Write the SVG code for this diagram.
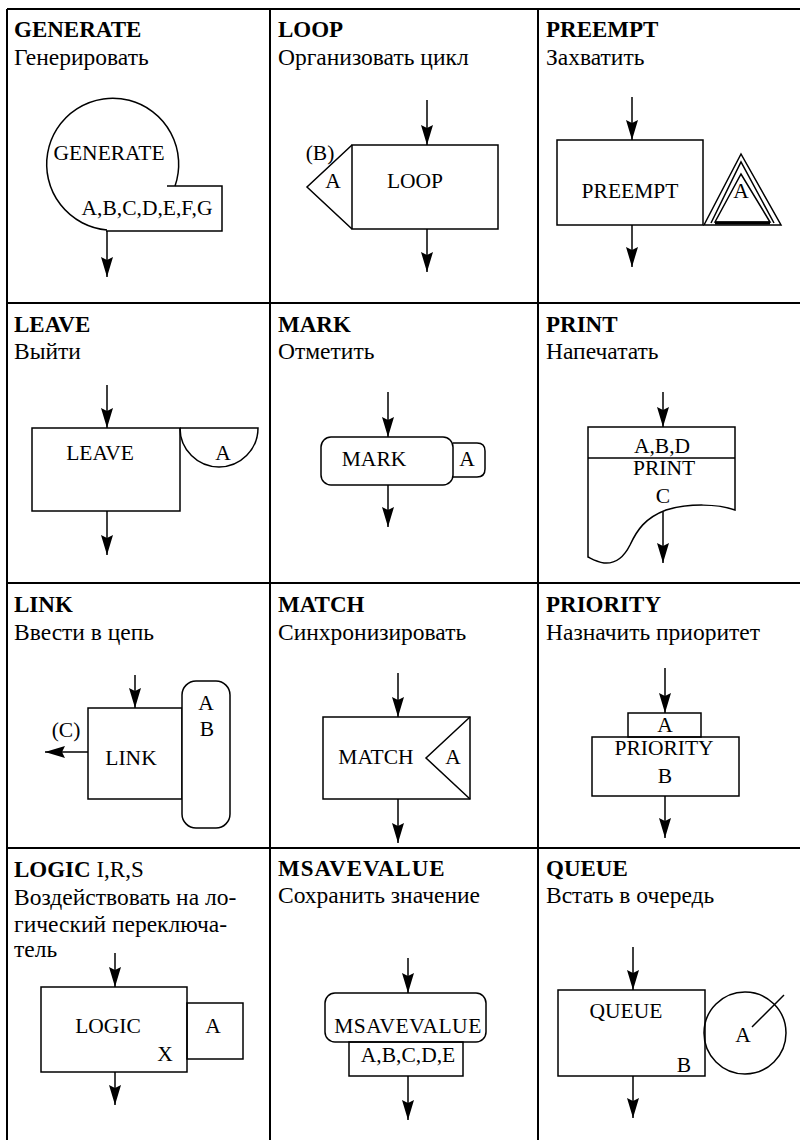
<svg xmlns="http://www.w3.org/2000/svg" width="800" height="1140" viewBox="0 0 800 1140" font-family="'Liberation Serif', 'DejaVu Serif', serif">
<style>
.grid{stroke:#000;stroke-width:2;fill:none}
.s{stroke:#000;stroke-width:1.5;fill:none}
.w{stroke:#000;stroke-width:1.5;fill:#fff}
.t{font-family:'Liberation Serif','DejaVu Serif',serif;font-weight:bold;font-size:23px;fill:#000}
.st{font-family:'Liberation Serif','DejaVu Serif',serif;font-size:23.5px;fill:#000}
.l{font-family:'Liberation Serif','DejaVu Serif',serif;font-size:21.5px;fill:#000;text-anchor:middle}
.c{stroke:#000;stroke-width:1.5;fill:none;marker-end:url(#ah)}
</style>
<defs>
<marker id="ah" markerUnits="userSpaceOnUse" markerWidth="22" markerHeight="14" refX="20" refY="6" orient="auto">
<path d="M0,0 L20,6 L0,12 L3,6 Z" fill="#000"/>
</marker>
</defs>
<rect width="800" height="1140" fill="#fff"/>
<g id="grid" class="grid">
<line x1="7" y1="9" x2="800" y2="9"/>
<line x1="7" y1="303" x2="800" y2="303"/>
<line x1="7" y1="583" x2="800" y2="583"/>
<line x1="7" y1="848" x2="800" y2="848"/>
<line x1="7" y1="9" x2="7" y2="1140"/>
<line x1="270" y1="9" x2="270" y2="1140"/>
<line x1="538" y1="9" x2="538" y2="1140"/>
</g>

<g id="generate">
<text class="t" x="14" y="37">GENERATE</text>
<text class="st" x="14" y="65">Генерировать</text>
<path class="s" d="M175,186 A66,66 0 1 0 107,230"/>
<path class="s" d="M167,186 H222 V231 H106"/>
<text class="l" x="109" y="160">GENERATE</text>
<text class="l" x="147" y="215">A,B,C,D,E,F,G</text>
</g>

<g id="loop">
<text class="t" x="278" y="37">LOOP</text>
<text class="st" x="278" y="65">Организовать цикл</text>
<rect class="s" x="352" y="145" width="146" height="84"/>
<path class="s" d="M352,145 L307,187 L352,229"/>
<text class="l" x="320" y="160">(B)</text>
<text class="l" x="333" y="188">A</text>
<text class="l" x="415" y="188">LOOP</text>
</g>

<g id="preempt">
<text class="t" x="546" y="37">PREEMPT</text>
<text class="st" x="546" y="65">Захватить</text>
<rect class="s" x="557" y="140" width="146" height="85"/>
<text class="l" x="630" y="198">PREEMPT</text>
<path class="s" d="M704,225 L741,154 L781,225 Z"/>
<path class="s" d="M711,223 L741,162 L774,223"/>
<path class="s" d="M715,222 L741,174 L770,222 Z"/>
<line x1="715" y1="223" x2="770" y2="223" stroke="#000" stroke-width="3"/>
<text class="l" x="741" y="198">A</text>
</g>

<g id="leave">
<text class="t" x="14" y="332">LEAVE</text>
<text class="st" x="14" y="359">Выйти</text>
<rect class="s" x="32" y="428" width="148" height="83"/>
<path class="s" d="M180,428 H258 A39,39 0 0 1 180,428"/>
<text class="l" x="100" y="460">LEAVE</text>
<text class="l" x="223" y="460">A</text>
</g>

<g id="mark">
<text class="t" x="278" y="332">MARK</text>
<text class="st" x="278" y="359">Отметить</text>
<rect class="s" x="321" y="437" width="132" height="48" rx="10"/>
<path class="s" d="M453,443 H477 Q485,443 485,451 V469 Q485,477 477,477 H453"/>
<text class="l" x="374" y="466">MARK</text>
<text class="l" x="467" y="466">A</text>
</g>

<g id="print">
<text class="t" x="546" y="332">PRINT</text>
<text class="st" x="546" y="359">Напечатать</text>
<path class="s" d="M588,427 H735 V510 C718,504 690,503 666,510 C645,518 637,530 630,545 C624,557 615,564 604,563 C597,562 592,559 588,557 Z"/>
<line class="s" x1="588" y1="458" x2="735" y2="458"/>
<text class="l" x="662" y="453">A,B,D</text>
<text class="l" x="664" y="475">PRINT</text>
<text class="l" x="663" y="503">C</text>
</g>

<g id="link">
<text class="t" x="14" y="612">LINK</text>
<text class="st" x="14" y="640">Ввести в цепь</text>
<rect class="s" x="88" y="708" width="94" height="91"/>
<rect class="w" x="182" y="681" width="48" height="147" rx="14"/>
<text class="l" x="206" y="710">A</text>
<text class="l" x="207" y="736">B</text>
<text class="l" x="131" y="765">LINK</text>
<text class="l" x="66" y="737">(C)</text>
</g>

<g id="match">
<text class="t" x="278" y="612">MATCH</text>
<text class="st" x="278" y="640">Синхронизировать</text>
<rect class="s" x="323" y="717" width="147" height="82"/>
<path class="s" d="M470,717 L426,758 L470,799"/>
<text class="l" x="376" y="764">MATCH</text>
<text class="l" x="453" y="764">A</text>
</g>

<g id="priority">
<text class="t" x="546" y="612">PRIORITY</text>
<text class="st" x="546" y="640">Назначить приоритет</text>
<rect class="s" x="628" y="713" width="73" height="24"/>
<rect class="s" x="592" y="737" width="147" height="59"/>
<text class="l" x="665" y="732">A</text>
<text class="l" x="664" y="755">PRIORITY</text>
<text class="l" x="665" y="783">B</text>
</g>

<g id="logic">
<text class="t" x="14" y="877">LOGIC<tspan font-weight="normal" font-size="23"> I,R,S</tspan></text>
<text class="st" x="14" y="905">Воздействовать на ло-</text>
<text class="st" x="14" y="932">гический переключа-</text>
<text class="st" x="14" y="957">тель</text>
<rect class="s" x="41" y="987" width="146" height="85"/>
<rect class="s" x="187" y="1003" width="56" height="56"/>
<text class="l" x="108" y="1033">LOGIC</text>
<text class="l" x="165" y="1061">X</text>
<text class="l" x="213" y="1033">A</text>
</g>

<g id="msavevalue">
<text class="t" x="278" y="876" letter-spacing="1">MSAVEVALUE</text>
<text class="st" x="278" y="903">Сохранить значение</text>
<rect class="s" x="325" y="993" width="161" height="49" rx="10"/>
<rect class="s" x="349" y="1042" width="114" height="34"/>
<text class="l" x="408" y="1033" letter-spacing="0.5">MSAVEVALUE</text>
<text class="l" x="408" y="1062">A,B,C,D,E</text>
</g>

<g id="queue">
<text class="t" x="546" y="876">QUEUE</text>
<text class="st" x="546" y="903">Встать в очередь</text>
<rect class="s" x="558" y="990" width="147" height="86"/>
<circle class="s" cx="745" cy="1033" r="41"/>
<line class="s" x1="752" y1="1027" x2="784" y2="995"/>
<text class="l" x="626" y="1018">QUEUE</text>
<text class="l" x="684" y="1072">B</text>
<text class="l" x="743" y="1042">A</text>
</g>

<g id="connectors">
<line class="c" x1="107" y1="231" x2="107" y2="277"/>
<line class="c" x1="427" y1="100" x2="427" y2="145"/>
<line class="c" x1="427" y1="229" x2="427" y2="272"/>
<line class="c" x1="632" y1="97" x2="632" y2="140"/>
<line class="c" x1="632" y1="225" x2="632" y2="267"/>
<line class="c" x1="107" y1="385" x2="107" y2="428"/>
<line class="c" x1="107" y1="511" x2="107" y2="555"/>
<line class="c" x1="388" y1="392" x2="388" y2="437"/>
<line class="c" x1="388" y1="485" x2="388" y2="527"/>
<line class="c" x1="663" y1="392" x2="663" y2="427"/>
<line class="c" x1="663" y1="512" x2="663" y2="563"/>
<line class="c" x1="135" y1="675" x2="135" y2="708"/>
<line class="c" x1="88" y1="752" x2="45" y2="752"/>
<line class="c" x1="398" y1="673" x2="398" y2="717"/>
<line class="c" x1="398" y1="799" x2="398" y2="843"/>
<line class="c" x1="665" y1="668" x2="665" y2="713"/>
<line class="c" x1="665" y1="796" x2="665" y2="838"/>
<line class="c" x1="115" y1="953" x2="115" y2="987"/>
<line class="c" x1="115" y1="1072" x2="115" y2="1105"/>
<line class="c" x1="408" y1="958" x2="408" y2="993"/>
<line class="c" x1="408" y1="1076" x2="408" y2="1120"/>
<line class="c" x1="633" y1="947" x2="633" y2="990"/>
<line class="c" x1="633" y1="1076" x2="633" y2="1118"/>
</g>
</svg>
